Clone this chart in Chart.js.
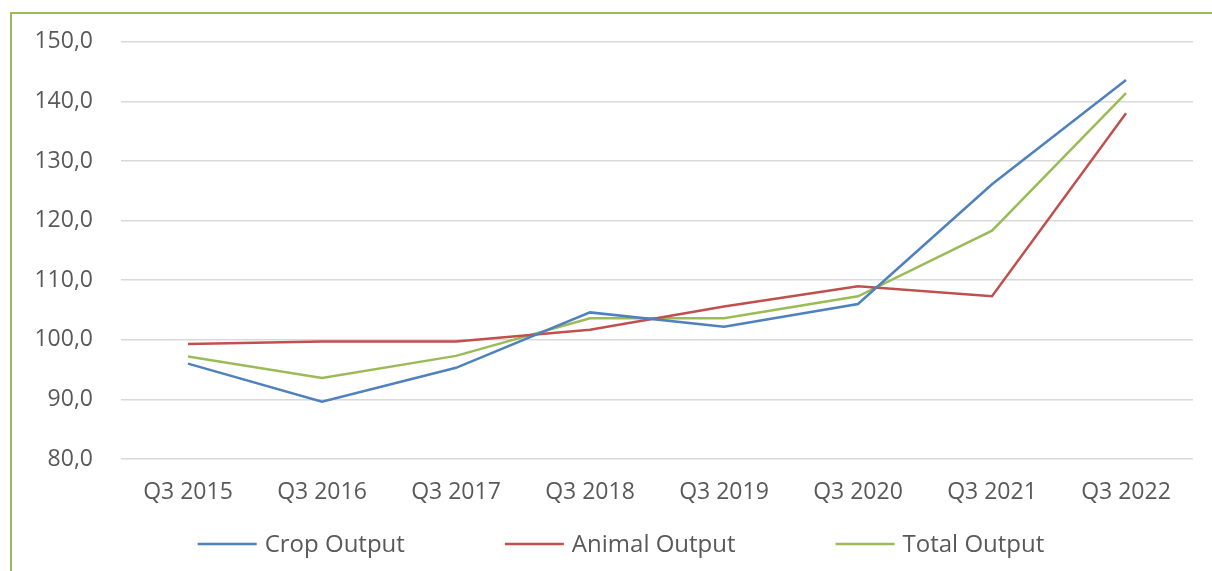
<!DOCTYPE html>
<html>
<head>
<meta charset="utf-8">
<script src="https://cdn.jsdelivr.net/npm/chart.js@4/dist/chart.umd.min.js"></script>
<style>
  html, body { margin: 0; padding: 0; background: #fff; overflow: hidden; }
  #frame { position: absolute; left: 10px; top: 12px; width: 1400px; height: 800px;
           border-left: 2px solid #9BBB59; border-top: 2px solid #9BBB59; }
  #wrap { position: absolute; left: 0; top: 0; width: 1212px; height: 571px; }
</style>
</head>
<body>
<div id="frame"></div>
<div id="wrap"><canvas id="c" width="1212" height="571"></canvas></div>
<script>
const categories = ["Q3 2015", "Q3 2016", "Q3 2017", "Q3 2018", "Q3 2019", "Q3 2020", "Q3 2021", "Q3 2022"];
const cropOutput   = [96.0, 89.6, 95.3, 104.6, 102.2, 106.0, 126.1, 143.6];
const animalOutput = [99.3, 99.7, 99.7, 101.7, 105.6, 109.0, 107.3, 138.0];
const totalOutput  = [97.2, 93.6, 97.3, 103.6, 103.6, 107.3, 118.3, 141.4];
const seriesNames  = ["Crop Output", "Animal Output", "Total Output"];
const yMin = 80, yMax = 150, yStep = 10;

const FONT = "'Open Sans', sans-serif";
const TXT = "#595959";

const legendPlugin = {
  id: 'customLegend',
  afterDraw(chart) {
    const ctx = chart.ctx;
    const ds = chart.data.datasets;
    const lineLen = 59, gap = 8, itemGap = 100, y = 544;
    ctx.save();
    ctx.font = "24px " + FONT;
    ctx.textBaseline = 'middle';
    const widths = ds.map(d => lineLen + gap + ctx.measureText(d.label).width);
    const total = widths.reduce((a, b) => a + b, 0) + itemGap * (ds.length - 1);
    let x = 621 - total / 2;
    ds.forEach((d, i) => {
      ctx.strokeStyle = d.borderColor;
      ctx.lineWidth = 2.5;
      ctx.beginPath();
      ctx.moveTo(x, y);
      ctx.lineTo(x + lineLen, y);
      ctx.stroke();
      ctx.fillStyle = TXT;
      ctx.fillText(d.label, x + lineLen + gap, y + 1);
      x += widths[i] + itemGap;
    });
    ctx.restore();
  }
};

new Chart(document.getElementById('c'), {
  type: 'line',
  data: {
    labels: categories,
    datasets: [
      { label: seriesNames[0], data: cropOutput,   borderColor: '#4F81BD', backgroundColor: '#4F81BD' },
      { label: seriesNames[1], data: animalOutput, borderColor: '#C0504D', backgroundColor: '#C0504D' },
      { label: seriesNames[2], data: totalOutput,  borderColor: '#9BBB59', backgroundColor: '#9BBB59' }
    ]
  },
  options: {
    responsive: false,
    animation: false,
    devicePixelRatio: 1,
    elements: {
      line: { borderWidth: 2.5, tension: 0 },
      point: { radius: 0, hoverRadius: 0 }
    },
    layout: { padding: { left: 0, right: 19, top: 41, bottom: 60 } },
    plugins: { legend: { display: false }, tooltip: { enabled: false } },
    scales: {
      x: {
        offset: true,
        grid: { display: false, drawTicks: false },
        border: { display: false },
        ticks: { color: TXT, font: { family: FONT, size: 23 }, padding: 20, maxRotation: 0, autoSkip: false },
        afterFit(s) { s.height = 52; }
      },
      y: {
        min: yMin, max: yMax,
        grid: { color: '#D9D9D9', lineWidth: 1.5, drawTicks: false },
        border: { display: false },
        ticks: {
          stepSize: yStep, color: TXT, font: { family: FONT, size: 23 }, padding: 28,
          callback: v => v.toFixed(1).replace('.', ',')
        },
        afterFit(s) { s.width = 121; }
      }
    }
  },
  plugins: [legendPlugin]
});
</script>
</body>
</html>
